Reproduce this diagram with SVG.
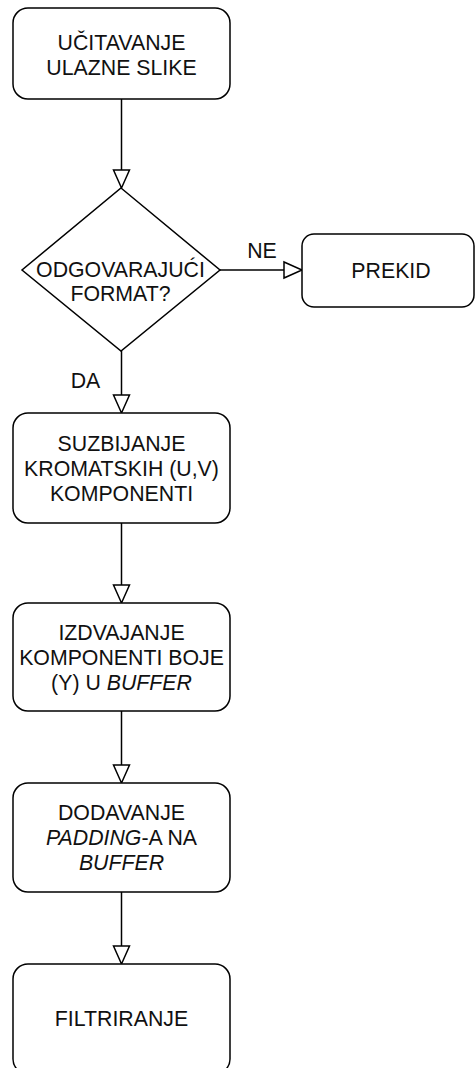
<svg xmlns="http://www.w3.org/2000/svg" width="475" height="1068" viewBox="0 0 475 1068">
<style>
.node{fill:#fff;stroke:#000;stroke-width:1.5}
.t{font-family:"Liberation Sans",Arial,sans-serif;font-size:21.3px;fill:#111;text-anchor:middle}
.i{font-style:italic}
.edge{fill:none;stroke:#000;stroke-width:1.5}
.head{fill:#fff;stroke:#000;stroke-width:1.5}
</style>
<rect width="475" height="1068" fill="#fff"/>
<g id="connectors">
<line class="edge" x1="121.5" y1="99" x2="121.5" y2="170"/>
<polygon class="head" points="113.5,170 129.5,170 121.5,188"/>
<line class="edge" x1="220" y1="270" x2="284" y2="270"/>
<polygon class="head" points="284,262 284,278 302,270"/>
<line class="edge" x1="121.5" y1="351" x2="121.5" y2="395"/>
<polygon class="head" points="113.5,395 129.5,395 121.5,413"/>
<line class="edge" x1="121.5" y1="523" x2="121.5" y2="585"/>
<polygon class="head" points="113.5,585 129.5,585 121.5,603"/>
<line class="edge" x1="121.5" y1="711" x2="121.5" y2="765"/>
<polygon class="head" points="113.5,765 129.5,765 121.5,783"/>
<line class="edge" x1="121.5" y1="892" x2="121.5" y2="946"/>
<polygon class="head" points="113.5,946 129.5,946 121.5,964"/>
<text class="t" x="262" y="258">NE</text>
<text class="t" x="85.5" y="388">DA</text>
</g>
<g id="n1">
<rect class="node" x="13" y="8" width="217" height="91" rx="15"/>
<text class="t" x="121.5" y="50">UČITAVANJE</text>
<text class="t" x="121.5" y="75">ULAZNE SLIKE</text>
</g>
<g id="n2">
<polygon class="node" points="121,188 220,270 121,351 22,270"/>
<text class="t" x="120.5" y="277">ODGOVARAJUĆI</text>
<text class="t" x="120.5" y="301">FORMAT?</text>
</g>
<g id="n3">
<rect class="node" x="302" y="234" width="172" height="73" rx="12"/>
<text class="t" x="391" y="278">PREKID</text>
</g>
<g id="n4">
<rect class="node" x="13" y="413" width="217" height="110" rx="15"/>
<text class="t" x="121.5" y="451">SUZBIJANJE</text>
<text class="t" x="121.5" y="476">KROMATSKIH (U,V)</text>
<text class="t" x="121.5" y="501">KOMPONENTI</text>
</g>
<g id="n5">
<rect class="node" x="13" y="603" width="217" height="108" rx="15"/>
<text class="t" x="121.5" y="640">IZDVAJANJE</text>
<text class="t" x="121.5" y="665">KOMPONENTI BOJE</text>
<text class="t" x="121.5" y="690">(Y) U <tspan class="i">BUFFER</tspan></text>
</g>
<g id="n6">
<rect class="node" x="13" y="783" width="217" height="109" rx="15"/>
<text class="t" x="121.5" y="820">DODAVANJE</text>
<text class="t" x="121.5" y="845"><tspan class="i">PADDING</tspan>-A NA</text>
<text class="t" x="121.5" y="870"><tspan class="i">BUFFER</tspan></text>
</g>
<g id="n7">
<rect class="node" x="13" y="964" width="217" height="110" rx="15"/>
<text class="t" x="121.5" y="1026">FILTRIRANJE</text>
</g>
</svg>
